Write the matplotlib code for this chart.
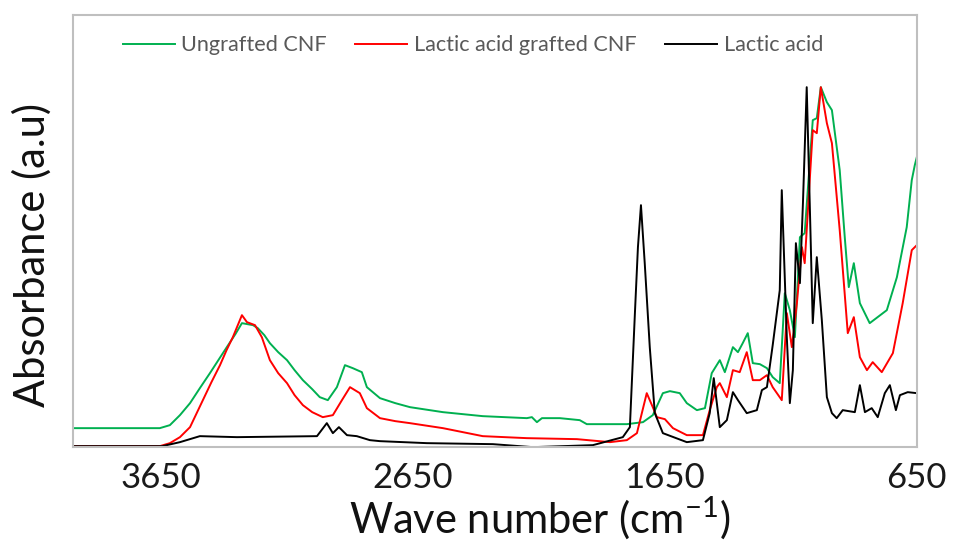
# FTIR spectra: ungrafted CNF, lactic acid grafted CNF, lactic acid

import matplotlib
matplotlib.use('Agg')
import matplotlib.pyplot as plt

# === Data (absorbance in arbitrary units) ===
wn_cnf = [4000, 3813, 3655, 3615, 3575, 3535, 3496, 3456, 3420, 3389, 3355, 3329, 3285,
          3266, 3240, 3218, 3185, 3150, 3120, 3087, 3050, 3020, 2988, 2952, 2920, 2889,
          2853, 2833, 2781, 2720, 2662, 2531, 2373, 2198, 2178, 2158, 2138, 2067, 1988,
          1960, 1801, 1737, 1698, 1658, 1630, 1591, 1563, 1523, 1491, 1464, 1432, 1412,
          1380, 1360, 1341, 1321, 1301, 1273, 1245, 1222, 1194, 1174, 1154, 1134, 1114,
          1095, 1063, 1047, 1031, 1007, 987, 956, 936, 920, 900, 876, 837, 769, 729,
          690, 670, 658, 650]
abs_cnf = [0.19, 0.19, 0.19, 0.22, 0.32, 0.44, 0.59, 0.74, 0.88, 1.00, 1.13, 1.24, 1.22,
           1.19, 1.12, 1.04, 0.95, 0.87, 0.77, 0.67, 0.58, 0.50, 0.47, 0.60, 0.82, 0.79,
           0.75, 0.60, 0.49, 0.44, 0.40, 0.35, 0.31, 0.29, 0.30, 0.25, 0.29, 0.29, 0.27,
           0.23, 0.23, 0.25, 0.32, 0.54, 0.56, 0.54, 0.44, 0.37, 0.39, 0.74, 0.87, 0.75,
           1.00, 0.95, 1.04, 1.14, 0.84, 0.83, 0.79, 0.70, 0.64, 1.54, 1.37, 1.10, 2.10,
           2.14, 3.27, 3.29, 3.60, 3.45, 3.37, 2.77, 2.10, 1.60, 1.84, 1.44, 1.24, 1.37,
           1.70, 2.20, 2.67, 2.82, 2.90]

wn_grafted = [4000, 3655, 3615, 3575, 3535, 3484, 3450, 3416, 3390, 3365, 3329, 3309,
              3277, 3250, 3218, 3185, 3150, 3120, 3087, 3050, 3008, 2968, 2932, 2900,
              2861, 2833, 2781, 2720, 2662, 2531, 2373, 2198, 1999, 1868, 1801, 1761,
              1722, 1698, 1682, 1650, 1618, 1563, 1499, 1472, 1444, 1432, 1404, 1380,
              1353, 1325, 1301, 1273, 1245, 1222, 1186, 1166, 1146, 1126, 1106, 1095,
              1063, 1047, 1031, 1007, 987, 956, 924, 900, 876, 848, 825, 789, 745,
              706, 670, 650]
abs_grafted = [0.01, 0.01, 0.04, 0.10, 0.20, 0.47, 0.65, 0.82, 0.97, 1.10, 1.32, 1.25,
               1.22, 1.10, 0.87, 0.74, 0.64, 0.52, 0.42, 0.35, 0.30, 0.32, 0.47, 0.60,
               0.54, 0.39, 0.29, 0.26, 0.24, 0.19, 0.11, 0.09, 0.08, 0.05, 0.07, 0.14,
               0.54, 0.40, 0.30, 0.28, 0.19, 0.12, 0.12, 0.37, 0.60, 0.64, 0.50, 0.77,
               0.75, 0.95, 0.67, 0.67, 0.72, 0.60, 0.47, 1.34, 1.00, 1.44, 2.00, 1.84,
               3.17, 3.14, 3.60, 3.24, 3.04, 2.17, 1.14, 1.30, 0.90, 0.77, 0.85, 0.75,
               0.94, 1.44, 1.97, 2.02]

wn_lactic = [4000, 3645, 3575, 3496, 3349, 3031, 2992, 2968, 2944, 2912, 2873, 2821,
             2781, 2595, 2333, 2174, 1936, 1817, 1789, 1769, 1757, 1745, 1730, 1710,
             1690, 1658, 1563, 1499, 1472, 1456, 1432, 1404, 1380, 1360, 1325, 1285,
             1265, 1245, 1222, 1194, 1186, 1166, 1154, 1142, 1130, 1114, 1102, 1087,
             1075, 1063, 1047, 1027, 1007, 987, 968, 944, 896, 876, 856, 829,
             805, 777, 757, 733, 717, 686, 650]
abs_lactic = [0.01, 0.01, 0.05, 0.11, 0.10, 0.11, 0.24, 0.14, 0.20, 0.12, 0.11, 0.07,
              0.06, 0.04, 0.03, 0.00, 0.02, 0.10, 0.20, 1.34, 2.00, 2.42, 1.84, 1.00,
              0.34, 0.14, 0.05, 0.07, 0.34, 0.69, 0.20, 0.27, 0.55, 0.47, 0.34, 0.37,
              0.57, 0.60, 1.02, 1.57, 2.57, 1.10, 0.44, 0.77, 2.04, 1.64, 2.44, 3.60,
              2.44, 1.24, 1.90, 1.27, 0.50, 0.34, 0.29, 0.37, 0.35, 0.62, 0.35, 0.39,
              0.30, 0.54, 0.62, 0.37, 0.52, 0.55, 0.54]

xticks = [3650, 2650, 1650, 650]

# === Style ===
plt.rcParams['font.family'] = ['Lato', 'DejaVu Sans']
plt.rcParams['mathtext.fontset'] = 'custom'
plt.rcParams['mathtext.rm'] = 'Lato'
plt.rcParams['mathtext.it'] = 'Lato:italic'
plt.rcParams['mathtext.default'] = 'regular'

fig = plt.figure(figsize=(9.59, 5.42), dpi=100)
ax = fig.add_axes([0.076, 0.175, 0.880, 0.797])

ax.plot(wn_cnf, abs_cnf, color='#00B050', lw=1.4, label='Ungrafted CNF')
ax.plot(wn_grafted, abs_grafted, color='#FF0000', lw=1.4, label='Lactic acid grafted CNF')
ax.plot(wn_lactic, abs_lactic, color='#000000', lw=1.4, label='Lactic acid')

ax.set_xlim(4000, 650)
ax.set_ylim(0, 4.32)
ax.set_xticks(xticks)
ax.set_xticklabels([str(t) for t in xticks])
ax.set_yticks([])
ax.tick_params(axis='x', length=0, pad=11, labelsize=25, labelcolor='#1a1a1a')

for sp in ax.spines.values():
    sp.set_color('#BFBFBF')
    sp.set_linewidth(1.5)

ax.set_xlabel(r'Wave number (cm$^{-1}$)', fontsize=30, color='#111111')
ax.xaxis.set_label_coords(0.553, -0.11)
ax.set_ylabel('Absorbance (a.u)', fontsize=30, color='#111111')
ax.yaxis.set_label_coords(-0.025, 0.444)

leg = ax.legend(loc='center', bbox_to_anchor=(0.474, 0.93), ncol=3, frameon=False,
                fontsize=15.6, handlelength=2.4, handletextpad=0.32, columnspacing=1.3)
for t in leg.get_texts():
    t.set_color('#595959')

fig.savefig('out.png', dpi=100)
